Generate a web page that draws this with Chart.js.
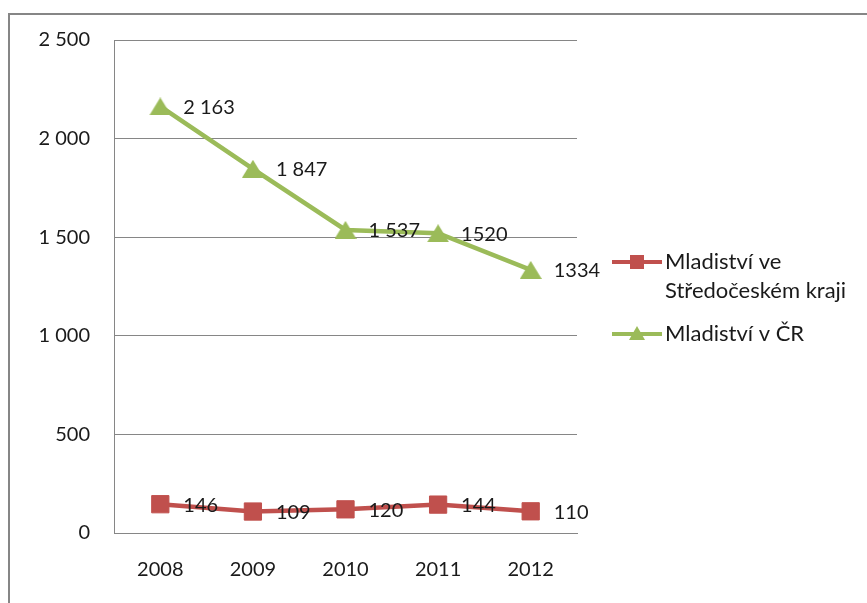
<!DOCTYPE html>
<html>
<head>
<meta charset="utf-8">
<script src="https://cdn.jsdelivr.net/npm/chart.js@4"></script>
<style>
  html, body { margin: 0; padding: 0; background: #fff; }
  #wrap { width: 867px; height: 603px; position: relative; }
</style>
</head>
<body>
<div id="wrap"><canvas id="myChart" width="867" height="603"></canvas></div>
<script>
const years = ['2008', '2009', '2010', '2011', '2012'];
const stredocesky = [146, 109, 120, 144, 110];
const celaCR = [2163, 1847, 1537, 1520, 1334];
// labels as printed next to the points in the original
const stredoceskyLabels = ['146', '109', '120', '144', '110'];
const celaCRLabels = ['2 163', '1 847', '1 537', '1520', '1334'];
const seriesNames = [['Mladiství ve', 'Středočeském kraji'], ['Mladiství v ČR']];

const RED = '#C0504D';
const GREEN = '#9BBB59';
const FONT = 'Lato, "Open Sans", sans-serif';

// triangle marker centred on its bounding box, like the office chart
function makeTriangle(w, h, color) {
    const c = document.createElement('canvas');
    c.width = w; c.height = h;
    const g = c.getContext('2d');
    g.fillStyle = color;
    g.beginPath();
    g.moveTo(w / 2, 0);
    g.lineTo(w, h);
    g.lineTo(0, h);
    g.closePath();
    g.fill();
    return c;
}
const triangle = makeTriangle(22, 18, GREEN);

const frame = {
    id: 'frame',
    beforeDraw(chart) {
        const ctx = chart.ctx;
        ctx.save();
        ctx.fillStyle = '#fff';
        ctx.fillRect(0, 0, chart.width, chart.height);
        ctx.strokeStyle = '#868686';
        ctx.lineWidth = 2;
        ctx.beginPath();
        ctx.moveTo(9, chart.height);
        ctx.lineTo(9, 14);
        ctx.lineTo(chart.width, 14);
        ctx.stroke();
        ctx.restore();
    }
};

const pointLabels = {
    id: 'pointLabels',
    afterDatasetsDraw(chart) {
        const ctx = chart.ctx;
        const texts = [stredoceskyLabels, celaCRLabels];
        ctx.save();
        ctx.font = '20px ' + FONT;
        ctx.fillStyle = '#1a1a1a';
        ctx.textBaseline = 'middle';
        ctx.textAlign = 'left';
        chart.data.datasets.forEach(function(ds, i) {
            chart.getDatasetMeta(i).data.forEach(function(pt, j) {
                ctx.fillText(texts[i][j], pt.x + 23, pt.y + 1);
            });
        });
        ctx.restore();
    }
};

const sideLegend = {
    id: 'sideLegend',
    afterDraw(chart) {
        const ctx = chart.ctx;
        const x0 = chart.chartArea.right + 35;
        const rows = [262, 334];
        ctx.save();
        ctx.font = '22px ' + FONT;
        ctx.textBaseline = 'middle';
        chart.data.datasets.forEach(function(ds, i) {
            const y = rows[i];
            ctx.strokeStyle = ds.borderColor;
            ctx.lineWidth = 4;
            ctx.beginPath();
            ctx.moveTo(x0, y);
            ctx.lineTo(x0 + 50, y);
            ctx.stroke();
            ctx.fillStyle = ds.borderColor;
            if (i === 0) {
                ctx.fillRect(x0 + 18, y - 7, 14, 14);
            } else {
                ctx.beginPath();
                ctx.moveTo(x0 + 25, y - 8);
                ctx.lineTo(x0 + 33, y + 6);
                ctx.lineTo(x0 + 17, y + 6);
                ctx.closePath();
                ctx.fill();
            }
            ctx.fillStyle = '#1a1a1a';
            seriesNames[i].forEach(function(line, k) {
                ctx.fillText(line, x0 + 53, y + k * 29);
            });
        });
        ctx.restore();
    }
};

const config = {
    type: 'line',
    data: {
        labels: years,
        datasets: [{
            label: seriesNames[0].join(' '),
            data: stredocesky,
            borderColor: RED,
            backgroundColor: RED,
            borderWidth: 4.5,
            pointStyle: 'rect',
            pointRadius: 12.2,
            pointBorderWidth: 1,
            tension: 0
        }, {
            label: seriesNames[1].join(' '),
            data: celaCR,
            borderColor: GREEN,
            backgroundColor: GREEN,
            borderWidth: 4.5,
            pointStyle: triangle,
            pointRadius: 11,
            tension: 0
        }]
    },
    options: {
        responsive: false,
        animation: false,
        layout: { padding: { left: 0, right: 290, top: 40, bottom: 0 } },
        plugins: {
            legend: { display: false },
            tooltip: { enabled: false }
        },
        scales: {
            x: {
                offset: true,
                grid: { display: false, drawTicks: false },
                border: { display: true, color: '#868686', width: 1 },
                ticks: { padding: 25, color: '#1a1a1a', font: { family: FONT, size: 20 } },
                afterFit: function(scale) { scale.height = 70; }
            },
            y: {
                min: 0,
                max: 2500,
                ticks: {
                    stepSize: 500,
                    padding: 24,
                    color: '#1a1a1a',
                    font: { family: FONT, size: 20 },
                    callback: function(v) { return String(v).replace(/\B(?=(\d{3})+(?!\d))/g, ' '); }
                },
                grid: { color: '#868686', lineWidth: 1, drawTicks: false },
                border: { display: true, color: '#868686', width: 1 },
                afterFit: function(scale) { scale.width = 114; }
            }
        }
    },
    plugins: [frame, pointLabels, sideLegend]
};

new Chart(document.getElementById('myChart').getContext('2d'), config);
</script>
</body>
</html>
